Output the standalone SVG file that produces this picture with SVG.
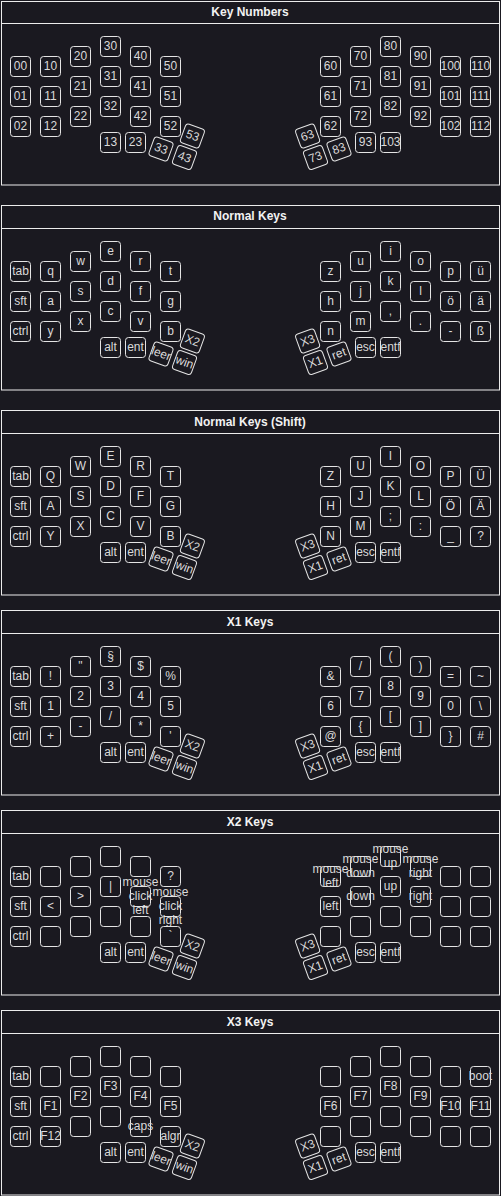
<svg xmlns="http://www.w3.org/2000/svg" xmlns:xlink="http://www.w3.org/1999/xlink" width="501" height="1196" viewBox="0 0 501 1196">
<style>
.bg{fill:#1a1920}
.panel{fill:#1a1920;stroke:#ececec;stroke-width:1}
.sep{stroke:#ececec;stroke-width:1}
.title{font-family:"Liberation Sans",Arial,sans-serif;font-size:12px;font-weight:bold;fill:#f2f2f2;text-anchor:middle}
.kr{fill:none;stroke:#e4e4e4;stroke-width:1}
text.l{font-family:"Liberation Sans",Arial,sans-serif;font-size:12px;fill:#dadada;text-anchor:middle;transform:translateY(-1px)}
</style>
<defs>
<rect id="k" class="kr" x="0.5" y="0.5" width="20" height="20" rx="3"/>
<rect id="kc" class="kr" x="-10" y="-10" width="20" height="20" rx="3"/>
</defs>
<rect class="bg" x="0" y="0" width="501" height="1196"/>
<g id="panels">
<rect class="panel" x="1.5" y="1.5" width="498" height="183.5"/><line class="sep" x1="1.5" y1="23.5" x2="499.5" y2="23.5"/><text class="title" x="250" y="16">Key Numbers</text>
<rect class="panel" x="1.5" y="205.5" width="498" height="184.5"/><line class="sep" x1="1.5" y1="228.5" x2="499.5" y2="228.5"/><text class="title" x="250" y="220">Normal Keys</text>
<rect class="panel" x="1.5" y="410.5" width="498" height="184.5"/><line class="sep" x1="1.5" y1="433.5" x2="499.5" y2="433.5"/><text class="title" x="250" y="426">Normal Keys (Shift)</text>
<rect class="panel" x="1.5" y="610.5" width="498" height="184.5"/><line class="sep" x1="1.5" y1="633.5" x2="499.5" y2="633.5"/><text class="title" x="250" y="626">X1 Keys</text>
<rect class="panel" x="1.5" y="810.5" width="498" height="184.5"/><line class="sep" x1="1.5" y1="833.5" x2="499.5" y2="833.5"/><text class="title" x="250" y="826">X2 Keys</text>
<rect class="panel" x="1.5" y="1010.5" width="498" height="184.5"/><line class="sep" x1="1.5" y1="1033.5" x2="499.5" y2="1033.5"/><text class="title" x="250" y="1026">X3 Keys</text>
</g>
<g id="connectors"></g>

<g id="sec1" transform="translate(0,56)">
<g id="s1-00"><use href="#k" x="10" y="0"/><text class="l" x="20.5" y="14.5">00</text></g>
<g id="s1-01"><use href="#k" x="10" y="30"/><text class="l" x="20.5" y="44.5">01</text></g>
<g id="s1-02"><use href="#k" x="10" y="60"/><text class="l" x="20.5" y="74.5">02</text></g>
<g id="s1-10"><use href="#k" x="40" y="0"/><text class="l" x="50.5" y="14.5">10</text></g>
<g id="s1-11"><use href="#k" x="40" y="30"/><text class="l" x="50.5" y="44.5">11</text></g>
<g id="s1-12"><use href="#k" x="40" y="60"/><text class="l" x="50.5" y="74.5">12</text></g>
<g id="s1-20"><use href="#k" x="70" y="-10"/><text class="l" x="80.5" y="4.5">20</text></g>
<g id="s1-21"><use href="#k" x="70" y="20"/><text class="l" x="80.5" y="34.5">21</text></g>
<g id="s1-22"><use href="#k" x="70" y="50"/><text class="l" x="80.5" y="64.5">22</text></g>
<g id="s1-30"><use href="#k" x="100" y="-20"/><text class="l" x="110.5" y="-5.5">30</text></g>
<g id="s1-31"><use href="#k" x="100" y="10"/><text class="l" x="110.5" y="24.5">31</text></g>
<g id="s1-32"><use href="#k" x="100" y="40"/><text class="l" x="110.5" y="54.5">32</text></g>
<g id="s1-40"><use href="#k" x="130" y="-10"/><text class="l" x="140.5" y="4.5">40</text></g>
<g id="s1-41"><use href="#k" x="130" y="20"/><text class="l" x="140.5" y="34.5">41</text></g>
<g id="s1-42"><use href="#k" x="130" y="50"/><text class="l" x="140.5" y="64.5">42</text></g>
<g id="s1-50"><use href="#k" x="160" y="0"/><text class="l" x="170.5" y="14.5">50</text></g>
<g id="s1-51"><use href="#k" x="160" y="30"/><text class="l" x="170.5" y="44.5">51</text></g>
<g id="s1-52"><use href="#k" x="160" y="60"/><text class="l" x="170.5" y="74.5">52</text></g>
<g id="s1-13"><use href="#k" x="100" y="76"/><text class="l" x="110.5" y="90.5">13</text></g>
<g id="s1-23"><use href="#k" x="125" y="76"/><text class="l" x="135.5" y="90.5">23</text></g>
<g id="s1-33" transform="translate(161,93) rotate(20)"><use href="#kc"/><text class="l" x="0" y="4.5">33</text></g>
<g id="s1-43" transform="translate(184.5,101.5) rotate(20)"><use href="#kc"/><text class="l" x="0" y="4.5">43</text></g>
<g id="s1-53" transform="translate(192.4,80) rotate(20)"><use href="#kc"/><text class="l" x="0" y="4.5">53</text></g>
<g id="s1-60"><use href="#k" x="320" y="0"/><text class="l" x="330.5" y="14.5">60</text></g>
<g id="s1-61"><use href="#k" x="320" y="30"/><text class="l" x="330.5" y="44.5">61</text></g>
<g id="s1-62"><use href="#k" x="320" y="60"/><text class="l" x="330.5" y="74.5">62</text></g>
<g id="s1-70"><use href="#k" x="350" y="-10"/><text class="l" x="360.5" y="4.5">70</text></g>
<g id="s1-71"><use href="#k" x="350" y="20"/><text class="l" x="360.5" y="34.5">71</text></g>
<g id="s1-72"><use href="#k" x="350" y="50"/><text class="l" x="360.5" y="64.5">72</text></g>
<g id="s1-80"><use href="#k" x="380" y="-20"/><text class="l" x="390.5" y="-5.5">80</text></g>
<g id="s1-81"><use href="#k" x="380" y="10"/><text class="l" x="390.5" y="24.5">81</text></g>
<g id="s1-82"><use href="#k" x="380" y="40"/><text class="l" x="390.5" y="54.5">82</text></g>
<g id="s1-90"><use href="#k" x="410" y="-10"/><text class="l" x="420.5" y="4.5">90</text></g>
<g id="s1-91"><use href="#k" x="410" y="20"/><text class="l" x="420.5" y="34.5">91</text></g>
<g id="s1-92"><use href="#k" x="410" y="50"/><text class="l" x="420.5" y="64.5">92</text></g>
<g id="s1-100"><use href="#k" x="440" y="0"/><text class="l" x="450.5" y="14.5">100</text></g>
<g id="s1-101"><use href="#k" x="440" y="30"/><text class="l" x="450.5" y="44.5">101</text></g>
<g id="s1-102"><use href="#k" x="440" y="60"/><text class="l" x="450.5" y="74.5">102</text></g>
<g id="s1-110"><use href="#k" x="470" y="0"/><text class="l" x="480.5" y="14.5">110</text></g>
<g id="s1-111"><use href="#k" x="470" y="30"/><text class="l" x="480.5" y="44.5">111</text></g>
<g id="s1-112"><use href="#k" x="470" y="60"/><text class="l" x="480.5" y="74.5">112</text></g>
<g id="s1-93"><use href="#k" x="355" y="76"/><text class="l" x="365.5" y="90.5">93</text></g>
<g id="s1-103"><use href="#k" x="380" y="76"/><text class="l" x="390.5" y="90.5">103</text></g>
<g id="s1-63" transform="translate(307.6,80) rotate(-20)"><use href="#kc"/><text class="l" x="0" y="4.5">63</text></g>
<g id="s1-73" transform="translate(315.5,101.5) rotate(-20)"><use href="#kc"/><text class="l" x="0" y="4.5">73</text></g>
<g id="s1-83" transform="translate(339,93) rotate(-20)"><use href="#kc"/><text class="l" x="0" y="4.5">83</text></g>
</g>

<g id="sec2" transform="translate(0,261)">
<g id="s2-00"><use href="#k" x="10" y="0"/><text class="l" x="20.5" y="14.5">tab</text></g>
<g id="s2-01"><use href="#k" x="10" y="30"/><text class="l" x="20.5" y="44.5">sft</text></g>
<g id="s2-02"><use href="#k" x="10" y="60"/><text class="l" x="20.5" y="74.5">ctrl</text></g>
<g id="s2-10"><use href="#k" x="40" y="0"/><text class="l" x="50.5" y="14.5">q</text></g>
<g id="s2-11"><use href="#k" x="40" y="30"/><text class="l" x="50.5" y="44.5">a</text></g>
<g id="s2-12"><use href="#k" x="40" y="60"/><text class="l" x="50.5" y="74.5">y</text></g>
<g id="s2-20"><use href="#k" x="70" y="-10"/><text class="l" x="80.5" y="4.5">w</text></g>
<g id="s2-21"><use href="#k" x="70" y="20"/><text class="l" x="80.5" y="34.5">s</text></g>
<g id="s2-22"><use href="#k" x="70" y="50"/><text class="l" x="80.5" y="64.5">x</text></g>
<g id="s2-30"><use href="#k" x="100" y="-20"/><text class="l" x="110.5" y="-5.5">e</text></g>
<g id="s2-31"><use href="#k" x="100" y="10"/><text class="l" x="110.5" y="24.5">d</text></g>
<g id="s2-32"><use href="#k" x="100" y="40"/><text class="l" x="110.5" y="54.5">c</text></g>
<g id="s2-40"><use href="#k" x="130" y="-10"/><text class="l" x="140.5" y="4.5">r</text></g>
<g id="s2-41"><use href="#k" x="130" y="20"/><text class="l" x="140.5" y="34.5">f</text></g>
<g id="s2-42"><use href="#k" x="130" y="50"/><text class="l" x="140.5" y="64.5">v</text></g>
<g id="s2-50"><use href="#k" x="160" y="0"/><text class="l" x="170.5" y="14.5">t</text></g>
<g id="s2-51"><use href="#k" x="160" y="30"/><text class="l" x="170.5" y="44.5">g</text></g>
<g id="s2-52"><use href="#k" x="160" y="60"/><text class="l" x="170.5" y="74.5">b</text></g>
<g id="s2-13"><use href="#k" x="100" y="76"/><text class="l" x="110.5" y="90.5">alt</text></g>
<g id="s2-23"><use href="#k" x="125" y="76"/><text class="l" x="135.5" y="90.5">ent</text></g>
<g id="s2-33" transform="translate(161,93) rotate(20)"><use href="#kc"/><text class="l" x="0" y="4.5">leer</text></g>
<g id="s2-43" transform="translate(184.5,101.5) rotate(20)"><use href="#kc"/><text class="l" x="0" y="4.5">win</text></g>
<g id="s2-53" transform="translate(192.4,80) rotate(20)"><use href="#kc"/><text class="l" x="0" y="4.5">X2</text></g>
<g id="s2-60"><use href="#k" x="320" y="0"/><text class="l" x="330.5" y="14.5">z</text></g>
<g id="s2-61"><use href="#k" x="320" y="30"/><text class="l" x="330.5" y="44.5">h</text></g>
<g id="s2-62"><use href="#k" x="320" y="60"/><text class="l" x="330.5" y="74.5">n</text></g>
<g id="s2-70"><use href="#k" x="350" y="-10"/><text class="l" x="360.5" y="4.5">u</text></g>
<g id="s2-71"><use href="#k" x="350" y="20"/><text class="l" x="360.5" y="34.5">j</text></g>
<g id="s2-72"><use href="#k" x="350" y="50"/><text class="l" x="360.5" y="64.5">m</text></g>
<g id="s2-80"><use href="#k" x="380" y="-20"/><text class="l" x="390.5" y="-5.5">i</text></g>
<g id="s2-81"><use href="#k" x="380" y="10"/><text class="l" x="390.5" y="24.5">k</text></g>
<g id="s2-82"><use href="#k" x="380" y="40"/><text class="l" x="390.5" y="54.5">,</text></g>
<g id="s2-90"><use href="#k" x="410" y="-10"/><text class="l" x="420.5" y="4.5">o</text></g>
<g id="s2-91"><use href="#k" x="410" y="20"/><text class="l" x="420.5" y="34.5">l</text></g>
<g id="s2-92"><use href="#k" x="410" y="50"/><text class="l" x="420.5" y="64.5">.</text></g>
<g id="s2-100"><use href="#k" x="440" y="0"/><text class="l" x="450.5" y="14.5">p</text></g>
<g id="s2-101"><use href="#k" x="440" y="30"/><text class="l" x="450.5" y="44.5">ö</text></g>
<g id="s2-102"><use href="#k" x="440" y="60"/><text class="l" x="450.5" y="74.5">-</text></g>
<g id="s2-110"><use href="#k" x="470" y="0"/><text class="l" x="480.5" y="14.5">ü</text></g>
<g id="s2-111"><use href="#k" x="470" y="30"/><text class="l" x="480.5" y="44.5">ä</text></g>
<g id="s2-112"><use href="#k" x="470" y="60"/><text class="l" x="480.5" y="74.5">ß</text></g>
<g id="s2-93"><use href="#k" x="355" y="76"/><text class="l" x="365.5" y="90.5">esc</text></g>
<g id="s2-103"><use href="#k" x="380" y="76"/><text class="l" x="390.5" y="90.5">entf</text></g>
<g id="s2-63" transform="translate(307.6,80) rotate(-20)"><use href="#kc"/><text class="l" x="0" y="4.5">X3</text></g>
<g id="s2-73" transform="translate(315.5,101.5) rotate(-20)"><use href="#kc"/><text class="l" x="0" y="4.5">X1</text></g>
<g id="s2-83" transform="translate(339,93) rotate(-20)"><use href="#kc"/><text class="l" x="0" y="4.5">ret</text></g>
</g>

<g id="sec3" transform="translate(0,466)">
<g id="s3-00"><use href="#k" x="10" y="0"/><text class="l" x="20.5" y="14.5">tab</text></g>
<g id="s3-01"><use href="#k" x="10" y="30"/><text class="l" x="20.5" y="44.5">sft</text></g>
<g id="s3-02"><use href="#k" x="10" y="60"/><text class="l" x="20.5" y="74.5">ctrl</text></g>
<g id="s3-10"><use href="#k" x="40" y="0"/><text class="l" x="50.5" y="14.5">Q</text></g>
<g id="s3-11"><use href="#k" x="40" y="30"/><text class="l" x="50.5" y="44.5">A</text></g>
<g id="s3-12"><use href="#k" x="40" y="60"/><text class="l" x="50.5" y="74.5">Y</text></g>
<g id="s3-20"><use href="#k" x="70" y="-10"/><text class="l" x="80.5" y="4.5">W</text></g>
<g id="s3-21"><use href="#k" x="70" y="20"/><text class="l" x="80.5" y="34.5">S</text></g>
<g id="s3-22"><use href="#k" x="70" y="50"/><text class="l" x="80.5" y="64.5">X</text></g>
<g id="s3-30"><use href="#k" x="100" y="-20"/><text class="l" x="110.5" y="-5.5">E</text></g>
<g id="s3-31"><use href="#k" x="100" y="10"/><text class="l" x="110.5" y="24.5">D</text></g>
<g id="s3-32"><use href="#k" x="100" y="40"/><text class="l" x="110.5" y="54.5">C</text></g>
<g id="s3-40"><use href="#k" x="130" y="-10"/><text class="l" x="140.5" y="4.5">R</text></g>
<g id="s3-41"><use href="#k" x="130" y="20"/><text class="l" x="140.5" y="34.5">F</text></g>
<g id="s3-42"><use href="#k" x="130" y="50"/><text class="l" x="140.5" y="64.5">V</text></g>
<g id="s3-50"><use href="#k" x="160" y="0"/><text class="l" x="170.5" y="14.5">T</text></g>
<g id="s3-51"><use href="#k" x="160" y="30"/><text class="l" x="170.5" y="44.5">G</text></g>
<g id="s3-52"><use href="#k" x="160" y="60"/><text class="l" x="170.5" y="74.5">B</text></g>
<g id="s3-13"><use href="#k" x="100" y="76"/><text class="l" x="110.5" y="90.5">alt</text></g>
<g id="s3-23"><use href="#k" x="125" y="76"/><text class="l" x="135.5" y="90.5">ent</text></g>
<g id="s3-33" transform="translate(161,93) rotate(20)"><use href="#kc"/><text class="l" x="0" y="4.5">leer</text></g>
<g id="s3-43" transform="translate(184.5,101.5) rotate(20)"><use href="#kc"/><text class="l" x="0" y="4.5">win</text></g>
<g id="s3-53" transform="translate(192.4,80) rotate(20)"><use href="#kc"/><text class="l" x="0" y="4.5">X2</text></g>
<g id="s3-60"><use href="#k" x="320" y="0"/><text class="l" x="330.5" y="14.5">Z</text></g>
<g id="s3-61"><use href="#k" x="320" y="30"/><text class="l" x="330.5" y="44.5">H</text></g>
<g id="s3-62"><use href="#k" x="320" y="60"/><text class="l" x="330.5" y="74.5">N</text></g>
<g id="s3-70"><use href="#k" x="350" y="-10"/><text class="l" x="360.5" y="4.5">U</text></g>
<g id="s3-71"><use href="#k" x="350" y="20"/><text class="l" x="360.5" y="34.5">J</text></g>
<g id="s3-72"><use href="#k" x="350" y="50"/><text class="l" x="360.5" y="64.5">M</text></g>
<g id="s3-80"><use href="#k" x="380" y="-20"/><text class="l" x="390.5" y="-5.5">I</text></g>
<g id="s3-81"><use href="#k" x="380" y="10"/><text class="l" x="390.5" y="24.5">K</text></g>
<g id="s3-82"><use href="#k" x="380" y="40"/><text class="l" x="390.5" y="54.5">;</text></g>
<g id="s3-90"><use href="#k" x="410" y="-10"/><text class="l" x="420.5" y="4.5">O</text></g>
<g id="s3-91"><use href="#k" x="410" y="20"/><text class="l" x="420.5" y="34.5">L</text></g>
<g id="s3-92"><use href="#k" x="410" y="50"/><text class="l" x="420.5" y="64.5">:</text></g>
<g id="s3-100"><use href="#k" x="440" y="0"/><text class="l" x="450.5" y="14.5">P</text></g>
<g id="s3-101"><use href="#k" x="440" y="30"/><text class="l" x="450.5" y="44.5">Ö</text></g>
<g id="s3-102"><use href="#k" x="440" y="60"/><text class="l" x="450.5" y="74.5">_</text></g>
<g id="s3-110"><use href="#k" x="470" y="0"/><text class="l" x="480.5" y="14.5">Ü</text></g>
<g id="s3-111"><use href="#k" x="470" y="30"/><text class="l" x="480.5" y="44.5">Ä</text></g>
<g id="s3-112"><use href="#k" x="470" y="60"/><text class="l" x="480.5" y="74.5">?</text></g>
<g id="s3-93"><use href="#k" x="355" y="76"/><text class="l" x="365.5" y="90.5">esc</text></g>
<g id="s3-103"><use href="#k" x="380" y="76"/><text class="l" x="390.5" y="90.5">entf</text></g>
<g id="s3-63" transform="translate(307.6,80) rotate(-20)"><use href="#kc"/><text class="l" x="0" y="4.5">X3</text></g>
<g id="s3-73" transform="translate(315.5,101.5) rotate(-20)"><use href="#kc"/><text class="l" x="0" y="4.5">X1</text></g>
<g id="s3-83" transform="translate(339,93) rotate(-20)"><use href="#kc"/><text class="l" x="0" y="4.5">ret</text></g>
</g>

<g id="sec4" transform="translate(0,666)">
<g id="s4-00"><use href="#k" x="10" y="0"/><text class="l" x="20.5" y="14.5">tab</text></g>
<g id="s4-01"><use href="#k" x="10" y="30"/><text class="l" x="20.5" y="44.5">sft</text></g>
<g id="s4-02"><use href="#k" x="10" y="60"/><text class="l" x="20.5" y="74.5">ctrl</text></g>
<g id="s4-10"><use href="#k" x="40" y="0"/><text class="l" x="50.5" y="14.5">!</text></g>
<g id="s4-11"><use href="#k" x="40" y="30"/><text class="l" x="50.5" y="44.5">1</text></g>
<g id="s4-12"><use href="#k" x="40" y="60"/><text class="l" x="50.5" y="74.5">+</text></g>
<g id="s4-20"><use href="#k" x="70" y="-10"/><text class="l" x="80.5" y="4.5">"</text></g>
<g id="s4-21"><use href="#k" x="70" y="20"/><text class="l" x="80.5" y="34.5">2</text></g>
<g id="s4-22"><use href="#k" x="70" y="50"/><text class="l" x="80.5" y="64.5">-</text></g>
<g id="s4-30"><use href="#k" x="100" y="-20"/><text class="l" x="110.5" y="-5.5">§</text></g>
<g id="s4-31"><use href="#k" x="100" y="10"/><text class="l" x="110.5" y="24.5">3</text></g>
<g id="s4-32"><use href="#k" x="100" y="40"/><text class="l" x="110.5" y="54.5">/</text></g>
<g id="s4-40"><use href="#k" x="130" y="-10"/><text class="l" x="140.5" y="4.5">$</text></g>
<g id="s4-41"><use href="#k" x="130" y="20"/><text class="l" x="140.5" y="34.5">4</text></g>
<g id="s4-42"><use href="#k" x="130" y="50"/><text class="l" x="140.5" y="64.5">*</text></g>
<g id="s4-50"><use href="#k" x="160" y="0"/><text class="l" x="170.5" y="14.5">%</text></g>
<g id="s4-51"><use href="#k" x="160" y="30"/><text class="l" x="170.5" y="44.5">5</text></g>
<g id="s4-52"><use href="#k" x="160" y="60"/><text class="l" x="170.5" y="74.5">'</text></g>
<g id="s4-13"><use href="#k" x="100" y="76"/><text class="l" x="110.5" y="90.5">alt</text></g>
<g id="s4-23"><use href="#k" x="125" y="76"/><text class="l" x="135.5" y="90.5">ent</text></g>
<g id="s4-33" transform="translate(161,93) rotate(20)"><use href="#kc"/><text class="l" x="0" y="4.5">leer</text></g>
<g id="s4-43" transform="translate(184.5,101.5) rotate(20)"><use href="#kc"/><text class="l" x="0" y="4.5">win</text></g>
<g id="s4-53" transform="translate(192.4,80) rotate(20)"><use href="#kc"/><text class="l" x="0" y="4.5">X2</text></g>
<g id="s4-60"><use href="#k" x="320" y="0"/><text class="l" x="330.5" y="14.5">&amp;</text></g>
<g id="s4-61"><use href="#k" x="320" y="30"/><text class="l" x="330.5" y="44.5">6</text></g>
<g id="s4-62"><use href="#k" x="320" y="60"/><text class="l" x="330.5" y="74.5">@</text></g>
<g id="s4-70"><use href="#k" x="350" y="-10"/><text class="l" x="360.5" y="4.5">/</text></g>
<g id="s4-71"><use href="#k" x="350" y="20"/><text class="l" x="360.5" y="34.5">7</text></g>
<g id="s4-72"><use href="#k" x="350" y="50"/><text class="l" x="360.5" y="64.5">{</text></g>
<g id="s4-80"><use href="#k" x="380" y="-20"/><text class="l" x="390.5" y="-5.5">(</text></g>
<g id="s4-81"><use href="#k" x="380" y="10"/><text class="l" x="390.5" y="24.5">8</text></g>
<g id="s4-82"><use href="#k" x="380" y="40"/><text class="l" x="390.5" y="54.5">[</text></g>
<g id="s4-90"><use href="#k" x="410" y="-10"/><text class="l" x="420.5" y="4.5">)</text></g>
<g id="s4-91"><use href="#k" x="410" y="20"/><text class="l" x="420.5" y="34.5">9</text></g>
<g id="s4-92"><use href="#k" x="410" y="50"/><text class="l" x="420.5" y="64.5">]</text></g>
<g id="s4-100"><use href="#k" x="440" y="0"/><text class="l" x="450.5" y="14.5">=</text></g>
<g id="s4-101"><use href="#k" x="440" y="30"/><text class="l" x="450.5" y="44.5">0</text></g>
<g id="s4-102"><use href="#k" x="440" y="60"/><text class="l" x="450.5" y="74.5">}</text></g>
<g id="s4-110"><use href="#k" x="470" y="0"/><text class="l" x="480.5" y="14.5">~</text></g>
<g id="s4-111"><use href="#k" x="470" y="30"/><text class="l" x="480.5" y="44.5">\</text></g>
<g id="s4-112"><use href="#k" x="470" y="60"/><text class="l" x="480.5" y="74.5">#</text></g>
<g id="s4-93"><use href="#k" x="355" y="76"/><text class="l" x="365.5" y="90.5">esc</text></g>
<g id="s4-103"><use href="#k" x="380" y="76"/><text class="l" x="390.5" y="90.5">entf</text></g>
<g id="s4-63" transform="translate(307.6,80) rotate(-20)"><use href="#kc"/><text class="l" x="0" y="4.5">X3</text></g>
<g id="s4-73" transform="translate(315.5,101.5) rotate(-20)"><use href="#kc"/><text class="l" x="0" y="4.5">X1</text></g>
<g id="s4-83" transform="translate(339,93) rotate(-20)"><use href="#kc"/><text class="l" x="0" y="4.5">ret</text></g>
</g>

<g id="sec5" transform="translate(0,866)">
<g id="s5-00"><use href="#k" x="10" y="0"/><text class="l" x="20.5" y="14.5">tab</text></g>
<g id="s5-01"><use href="#k" x="10" y="30"/><text class="l" x="20.5" y="44.5">sft</text></g>
<g id="s5-02"><use href="#k" x="10" y="60"/><text class="l" x="20.5" y="74.5">ctrl</text></g>
<g id="s5-10"><use href="#k" x="40" y="0"/></g>
<g id="s5-11"><use href="#k" x="40" y="30"/><text class="l" x="50.5" y="44.5">&lt;</text></g>
<g id="s5-12"><use href="#k" x="40" y="60"/></g>
<g id="s5-20"><use href="#k" x="70" y="-10"/></g>
<g id="s5-21"><use href="#k" x="70" y="20"/><text class="l" x="80.5" y="34.5">&gt;</text></g>
<g id="s5-22"><use href="#k" x="70" y="50"/></g>
<g id="s5-30"><use href="#k" x="100" y="-20"/></g>
<g id="s5-31"><use href="#k" x="100" y="10"/><text class="l" x="110.5" y="24.5">|</text></g>
<g id="s5-32"><use href="#k" x="100" y="40"/></g>
<g id="s5-40"><use href="#k" x="130" y="-10"/></g>
<g id="s5-41"><use href="#k" x="130" y="20"/><text class="l" x="140.5" y="20.5">mouse</text><text class="l" x="140.5" y="34.5">click</text><text class="l" x="140.5" y="48.5">left</text></g>
<g id="s5-42"><use href="#k" x="130" y="50"/></g>
<g id="s5-50"><use href="#k" x="160" y="0"/><text class="l" x="170.5" y="14.5">?</text></g>
<g id="s5-51"><use href="#k" x="160" y="30"/><text class="l" x="170.5" y="30.5">mouse</text><text class="l" x="170.5" y="44.5">click</text><text class="l" x="170.5" y="58.5">right</text></g>
<g id="s5-52"><use href="#k" x="160" y="60"/><text class="l" x="170.5" y="74.5">`</text></g>
<g id="s5-13"><use href="#k" x="100" y="76"/><text class="l" x="110.5" y="90.5">alt</text></g>
<g id="s5-23"><use href="#k" x="125" y="76"/><text class="l" x="135.5" y="90.5">ent</text></g>
<g id="s5-33" transform="translate(161,93) rotate(20)"><use href="#kc"/><text class="l" x="0" y="4.5">leer</text></g>
<g id="s5-43" transform="translate(184.5,101.5) rotate(20)"><use href="#kc"/><text class="l" x="0" y="4.5">win</text></g>
<g id="s5-53" transform="translate(192.4,80) rotate(20)"><use href="#kc"/><text class="l" x="0" y="4.5">X2</text></g>
<g id="s5-60"><use href="#k" x="320" y="0"/><text class="l" x="330.5" y="7.5">mouse</text><text class="l" x="330.5" y="21.5">left</text></g>
<g id="s5-61"><use href="#k" x="320" y="30"/><text class="l" x="330.5" y="44.5">left</text></g>
<g id="s5-62"><use href="#k" x="320" y="60"/></g>
<g id="s5-70"><use href="#k" x="350" y="-10"/><text class="l" x="360.5" y="-2.5">mouse</text><text class="l" x="360.5" y="11.5">down</text></g>
<g id="s5-71"><use href="#k" x="350" y="20"/><text class="l" x="360.5" y="34.5">down</text></g>
<g id="s5-72"><use href="#k" x="350" y="50"/></g>
<g id="s5-80"><use href="#k" x="380" y="-20"/><text class="l" x="390.5" y="-12.5">mouse</text><text class="l" x="390.5" y="1.5">up</text></g>
<g id="s5-81"><use href="#k" x="380" y="10"/><text class="l" x="390.5" y="24.5">up</text></g>
<g id="s5-82"><use href="#k" x="380" y="40"/></g>
<g id="s5-90"><use href="#k" x="410" y="-10"/><text class="l" x="420.5" y="-2.5">mouse</text><text class="l" x="420.5" y="11.5">right</text></g>
<g id="s5-91"><use href="#k" x="410" y="20"/><text class="l" x="420.5" y="34.5">right</text></g>
<g id="s5-92"><use href="#k" x="410" y="50"/></g>
<g id="s5-100"><use href="#k" x="440" y="0"/></g>
<g id="s5-101"><use href="#k" x="440" y="30"/></g>
<g id="s5-102"><use href="#k" x="440" y="60"/></g>
<g id="s5-110"><use href="#k" x="470" y="0"/></g>
<g id="s5-111"><use href="#k" x="470" y="30"/></g>
<g id="s5-112"><use href="#k" x="470" y="60"/></g>
<g id="s5-93"><use href="#k" x="355" y="76"/><text class="l" x="365.5" y="90.5">esc</text></g>
<g id="s5-103"><use href="#k" x="380" y="76"/><text class="l" x="390.5" y="90.5">entf</text></g>
<g id="s5-63" transform="translate(307.6,80) rotate(-20)"><use href="#kc"/><text class="l" x="0" y="4.5">X3</text></g>
<g id="s5-73" transform="translate(315.5,101.5) rotate(-20)"><use href="#kc"/><text class="l" x="0" y="4.5">X1</text></g>
<g id="s5-83" transform="translate(339,93) rotate(-20)"><use href="#kc"/><text class="l" x="0" y="4.5">ret</text></g>
</g>

<g id="sec6" transform="translate(0,1066)">
<g id="s6-00"><use href="#k" x="10" y="0"/><text class="l" x="20.5" y="14.5">tab</text></g>
<g id="s6-01"><use href="#k" x="10" y="30"/><text class="l" x="20.5" y="44.5">sft</text></g>
<g id="s6-02"><use href="#k" x="10" y="60"/><text class="l" x="20.5" y="74.5">ctrl</text></g>
<g id="s6-10"><use href="#k" x="40" y="0"/></g>
<g id="s6-11"><use href="#k" x="40" y="30"/><text class="l" x="50.5" y="44.5">F1</text></g>
<g id="s6-12"><use href="#k" x="40" y="60"/><text class="l" x="50.5" y="74.5">F12</text></g>
<g id="s6-20"><use href="#k" x="70" y="-10"/></g>
<g id="s6-21"><use href="#k" x="70" y="20"/><text class="l" x="80.5" y="34.5">F2</text></g>
<g id="s6-22"><use href="#k" x="70" y="50"/></g>
<g id="s6-30"><use href="#k" x="100" y="-20"/></g>
<g id="s6-31"><use href="#k" x="100" y="10"/><text class="l" x="110.5" y="24.5">F3</text></g>
<g id="s6-32"><use href="#k" x="100" y="40"/></g>
<g id="s6-40"><use href="#k" x="130" y="-10"/></g>
<g id="s6-41"><use href="#k" x="130" y="20"/><text class="l" x="140.5" y="34.5">F4</text></g>
<g id="s6-42"><use href="#k" x="130" y="50"/><text class="l" x="140.5" y="64.5">caps</text></g>
<g id="s6-50"><use href="#k" x="160" y="0"/></g>
<g id="s6-51"><use href="#k" x="160" y="30"/><text class="l" x="170.5" y="44.5">F5</text></g>
<g id="s6-52"><use href="#k" x="160" y="60"/><text class="l" x="170.5" y="74.5">algr</text></g>
<g id="s6-13"><use href="#k" x="100" y="76"/><text class="l" x="110.5" y="90.5">alt</text></g>
<g id="s6-23"><use href="#k" x="125" y="76"/><text class="l" x="135.5" y="90.5">ent</text></g>
<g id="s6-33" transform="translate(161,93) rotate(20)"><use href="#kc"/><text class="l" x="0" y="4.5">leer</text></g>
<g id="s6-43" transform="translate(184.5,101.5) rotate(20)"><use href="#kc"/><text class="l" x="0" y="4.5">win</text></g>
<g id="s6-53" transform="translate(192.4,80) rotate(20)"><use href="#kc"/><text class="l" x="0" y="4.5">X2</text></g>
<g id="s6-60"><use href="#k" x="320" y="0"/></g>
<g id="s6-61"><use href="#k" x="320" y="30"/><text class="l" x="330.5" y="44.5">F6</text></g>
<g id="s6-62"><use href="#k" x="320" y="60"/></g>
<g id="s6-70"><use href="#k" x="350" y="-10"/></g>
<g id="s6-71"><use href="#k" x="350" y="20"/><text class="l" x="360.5" y="34.5">F7</text></g>
<g id="s6-72"><use href="#k" x="350" y="50"/></g>
<g id="s6-80"><use href="#k" x="380" y="-20"/></g>
<g id="s6-81"><use href="#k" x="380" y="10"/><text class="l" x="390.5" y="24.5">F8</text></g>
<g id="s6-82"><use href="#k" x="380" y="40"/></g>
<g id="s6-90"><use href="#k" x="410" y="-10"/></g>
<g id="s6-91"><use href="#k" x="410" y="20"/><text class="l" x="420.5" y="34.5">F9</text></g>
<g id="s6-92"><use href="#k" x="410" y="50"/></g>
<g id="s6-100"><use href="#k" x="440" y="0"/></g>
<g id="s6-101"><use href="#k" x="440" y="30"/><text class="l" x="450.5" y="44.5">F10</text></g>
<g id="s6-102"><use href="#k" x="440" y="60"/></g>
<g id="s6-110"><use href="#k" x="470" y="0"/><text class="l" x="480.5" y="14.5">boot</text></g>
<g id="s6-111"><use href="#k" x="470" y="30"/><text class="l" x="480.5" y="44.5">F11</text></g>
<g id="s6-112"><use href="#k" x="470" y="60"/></g>
<g id="s6-93"><use href="#k" x="355" y="76"/><text class="l" x="365.5" y="90.5">esc</text></g>
<g id="s6-103"><use href="#k" x="380" y="76"/><text class="l" x="390.5" y="90.5">entf</text></g>
<g id="s6-63" transform="translate(307.6,80) rotate(-20)"><use href="#kc"/><text class="l" x="0" y="4.5">X3</text></g>
<g id="s6-73" transform="translate(315.5,101.5) rotate(-20)"><use href="#kc"/><text class="l" x="0" y="4.5">X1</text></g>
<g id="s6-83" transform="translate(339,93) rotate(-20)"><use href="#kc"/><text class="l" x="0" y="4.5">ret</text></g>
</g>
</svg>
